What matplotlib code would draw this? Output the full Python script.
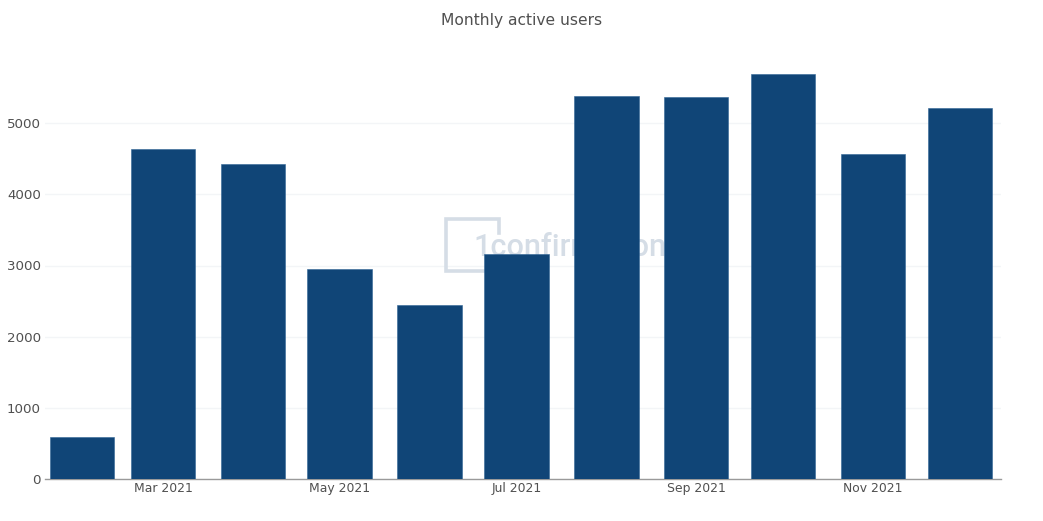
import numpy as np
import matplotlib
matplotlib.use('Agg')
import matplotlib.pyplot as plt
import matplotlib.dates as mdates
from datetime import datetime

months = ['2021-02-01', '2021-03-01', '2021-04-01', '2021-05-01', '2021-06-01', '2021-07-01',
          '2021-08-01', '2021-09-01', '2021-10-01', '2021-11-01', '2021-12-01']
users = [590, 4635, 4425, 2950, 2445, 3160, 5385, 5365, 5695, 4565, 5210]
y_ticks = [0, 1000, 2000, 3000, 4000, 5000]
x_ticks = ['2021-03-01', '2021-05-01', '2021-07-01', '2021-09-01', '2021-11-01']

W, H = 1043, 521
BAR_COLOR = '#104577'
TEXT_COLOR = '#505050'
LOGO_COLOR = '#d5dde6'

def to_date(s):
    return mdates.date2num(datetime.strptime(s, '%Y-%m-%d'))

fig = plt.figure(figsize=(W/100, H/100), dpi=100)
# axes box in pixels: left 45, right 1001, bottom at y=479, top at y=52
ax = fig.add_axes([45/W, 1-479/H, (1001-45)/W, (479-52)/H])

x = [to_date(m) for m in months]
ax.bar(x, users, width=22.25, color=BAR_COLOR, edgecolor='#2f6496', linewidth=0.4, zorder=3)

ax.set_xlim(to_date('2021-03-01')-40.7, to_date('2021-03-01')+289.2)
ax.set_ylim(0, 6000)
ax.set_xticks([to_date(t) for t in x_ticks])
ax.set_xticklabels([datetime.strptime(t, '%Y-%m-%d').strftime('%b %Y') for t in x_ticks])
ax.set_yticks(y_ticks)
ax.tick_params(axis='both', length=0, labelcolor=TEXT_COLOR)
ax.tick_params(axis='x', pad=2.5, labelsize=8.9)
ax.tick_params(axis='y', pad=3, labelsize=9.6)
ax.grid(axis='y', color='#f3f5f7', linewidth=1, zorder=0)
ax.set_axisbelow(True)
for s in ['top', 'right', 'left']:
    ax.spines[s].set_visible(False)
ax.spines['bottom'].set_color('#9a9a9a')
ax.spines['bottom'].set_linewidth(1)

fig.text(521.5/W, 1-20/H, 'Monthly active users', ha='center', va='center', fontsize=11.15, color=TEXT_COLOR)

# watermark sits behind the bars
logo_x = np.array([499, 499, 445.5, 445.5, 520]) / W
logo_y = 1 - np.array([233, 218.5, 218.5, 270.5, 270.5]) / H
ax.plot(logo_x, logo_y, transform=fig.transFigure, color=LOGO_COLOR, linewidth=2.6,
        solid_joinstyle='miter', clip_on=False, zorder=1)
ax.text(473/W, 1-256/H, '1confirmation', transform=fig.transFigure, fontsize=22, fontweight='medium',
        family='Roboto', color=LOGO_COLOR, ha='left', va='baseline', zorder=1)

fig.savefig('out.png', dpi=100, facecolor='white')
